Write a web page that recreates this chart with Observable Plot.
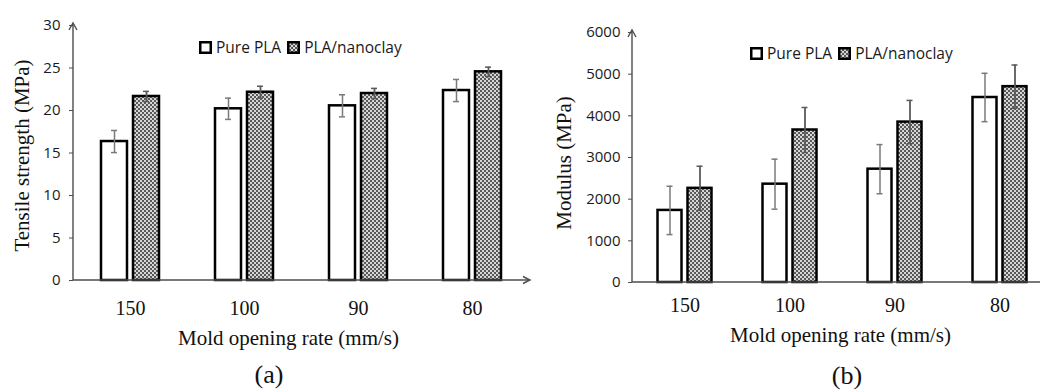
<!DOCTYPE html>
<html>
<head>
<meta charset="utf-8">
<script src="https://cdn.jsdelivr.net/npm/d3@7"></script>
<script src="https://cdn.jsdelivr.net/npm/@observablehq/plot@0.6"></script>
<style>
  html, body { margin: 0; padding: 0; background: #fff; }
  #wrap { position: relative; width: 1040px; height: 392px; overflow: hidden; background: #fff; }
  .panel { position: absolute; top: 0; width: 520px; height: 392px; }
  .legend { position: absolute; height: 20px; display: flex; align-items: center;
            font-family: "Open Sans", sans-serif; font-size: 15.5px; color: #1a1a1a; white-space: nowrap; }
  .legend svg { display: block; }
  .legend .lbl { margin-left: 4px; }
  .legend .gap { width: 6px; }
</style>
</head>
<body>
<div id="wrap">
  <div class="panel" id="pa" style="left:0"></div>
  <div class="panel" id="pb" style="left:520px"></div>
</div>
<script>
// ---------- data ----------
const rates = ["150", "100", "90", "80"];
const series = ["Pure PLA", "PLA/nanoclay"];

const tensilePure    = [16.35, 20.2, 20.55, 22.35];
const tensilePureErr = [1.3, 1.25, 1.3, 1.3];
const tensileNano    = [21.65, 22.15, 22.0, 24.55];
const tensileNanoErr = [0.6, 0.7, 0.6, 0.55];

const modulusPure    = [1730, 2360, 2720, 4440];
const modulusPureErr = [580, 600, 590, 580];
const modulusNano    = [2260, 3660, 3850, 4700];
const modulusNanoErr = [530, 540, 520, 520];

const tensileTicks = [0, 5, 10, 15, 20, 25, 30];
const modulusTicks = [0, 1000, 2000, 3000, 4000, 5000, 6000];

function rows(vals, errs, s) {
  return rates.map((r, i) => ({rate: r, series: s, value: vals[i], err: errs[i]}));
}

const SERIF = "'Liberation Serif', 'Times New Roman', serif";
const SANS = "'Open Sans', sans-serif";

function addPattern(svg, id) {
  const defs = d3.select(svg).insert("defs", ":first-child");
  const p = defs.append("pattern").attr("id", id).attr("patternUnits", "userSpaceOnUse")
    .attr("width", 4).attr("height", 4);
  p.append("rect").attr("width", 4).attr("height", 4).attr("fill", "#595959");
  p.append("rect").attr("x", 0).attr("y", 0).attr("width", 2).attr("height", 2).attr("fill", "#d6d6d6");
  p.append("rect").attr("x", 2).attr("y", 2).attr("width", 2).attr("height", 2).attr("fill", "#d6d6d6");
}

function panel(o) {
  const pure = rows(o.pure, o.pureErr, series[0]);
  const nano = rows(o.nano, o.nanoErr, series[1]);
  const half = o.step / 2;
  const bw = o.barW, g = o.gap / 2;
  const c = g + bw / 2;           // offset of bar centre from group centre
  const cap = 3;
  const axisMark = (index, scales, values, dim) => {
    const gEl = d3.create("svg:g").attr("fill", "none").attr("stroke", "#4d4d4d").attr("stroke-width", 1.4);
    const x0 = dim.marginLeft;
    const y0 = scales.y(0);
    const yTop = scales.y(o.yMax) - 2;
    gEl.append("line").attr("x1", x0).attr("x2", x0).attr("y1", y0).attr("y2", yTop);
    gEl.append("path").attr("d", `M${x0 - 4},${yTop + 7}L${x0},${yTop}L${x0 + 4},${yTop + 7}`);
    gEl.append("line").attr("x1", x0).attr("x2", o.xEnd).attr("y1", y0).attr("y2", y0);
    if (o.xArrow) {
      gEl.append("path").attr("d", `M${o.xEnd - 7},${y0 - 3.5}L${o.xEnd},${y0}L${o.xEnd - 7},${y0 + 3.5}`);
    }
    return gEl.node();
  };
  const errStroke = "#7a7a7a";
  const svg = Plot.plot({
    width: 520,
    height: 392,
    marginLeft: o.marginLeft,
    marginRight: 0,
    marginTop: o.marginTop,
    marginBottom: 392 - o.y0px,
    style: {background: "transparent", overflow: "visible", color: "#1a1a1a", fontFamily: SANS},
    x: {type: "band", domain: rates, range: [o.marginLeft, o.marginLeft + o.step * 4], padding: 0, round: false, axis: null},
    y: {domain: [0, o.yMax], axis: null},
    marks: [
      Plot.barY(pure, {x: "rate", y: "value", fill: "white", stroke: "black", strokeWidth: 2.5,
        insetLeft: half - c - bw / 2, insetRight: half + g}),
      Plot.barY(nano, {x: "rate", y: "value", fill: `url(#${o.id})`, stroke: "black", strokeWidth: 2.5,
        insetLeft: half + g, insetRight: half - c - bw / 2}),
      Plot.ruleX(pure, {x: "rate", y1: d => d.value - d.err, y2: d => d.value + d.err, dx: -c, stroke: errStroke, strokeWidth: 1.5}),
      Plot.ruleX(nano, {x: "rate", y1: d => d.value - d.err, y2: d => d.value + d.err, dx: c, stroke: "#5a5a5a", strokeWidth: 1.8}),
      Plot.tickY(pure, {x: "rate", y: d => d.value + d.err, insetLeft: half - c - cap, insetRight: half + c - cap, stroke: errStroke, strokeWidth: 1.5}),
      Plot.tickY(pure, {x: "rate", y: d => d.value - d.err, insetLeft: half - c - cap, insetRight: half + c - cap, stroke: errStroke, strokeWidth: 1.5}),
      Plot.tickY(nano, {x: "rate", y: d => d.value + d.err, insetLeft: half + c - cap, insetRight: half - c - cap, stroke: "#5a5a5a", strokeWidth: 1.5}),
      Plot.tickY(nano, {x: "rate", y: d => d.value - d.err, insetLeft: half + c - cap, insetRight: half - c - cap, stroke: "#5a5a5a", strokeWidth: 1.5}),
      Plot.axisY({ticks: o.yTicks, tickSize: 4, tickPadding: o.tickPad, stroke: "#4d4d4d", fontSize: 15, fontFamily: SANS, label: null, tickFormat: d => String(d)}),
      Plot.axisX({tickSize: 0, tickPadding: o.xTickPad, fontSize: 20, fontFamily: SERIF, label: null, fill: "#111"}),
      axisMark,
      Plot.text([o.yTitle], {text: d => d, frameAnchor: "left", textAnchor: "middle", lineAnchor: "middle", rotate: -90, dx: o.yTitleDx, dy: o.yTitleDy, fontSize: 21, fontFamily: SERIF, fill: "#111"}),
      Plot.text([o.xTitle], {text: d => d, frameAnchor: "bottom", textAnchor: "middle", lineAnchor: "middle", dx: o.xTitleDx, dy: o.xTitleDy, fontSize: 21, fontFamily: SERIF, fill: "#111"}),
      Plot.text([o.tag], {text: d => d, frameAnchor: "bottom", textAnchor: "middle", lineAnchor: "middle", dx: o.tagDx, dy: o.tagDy, fontSize: 26, fontFamily: SERIF, fill: "#111"})
    ]
  });
  addPattern(svg, o.id);
  return svg;
}

function legend(left, top, pid) {
  const div = document.createElement("div");
  div.className = "legend";
  div.style.left = left + "px";
  div.style.top = top + "px";
  const sw = (fill) => `<svg width="13" height="13"><defs><pattern id="${pid}" patternUnits="userSpaceOnUse" width="4" height="4"><rect width="4" height="4" fill="#595959"/><rect width="2" height="2" fill="#d6d6d6"/><rect x="2" y="2" width="2" height="2" fill="#d6d6d6"/></pattern></defs><rect x="1.25" y="1.25" width="10.5" height="10.5" fill="${fill}" stroke="black" stroke-width="2.5"/></svg>`;
  div.innerHTML = `${sw("white")}<span class="lbl">${series[0]}</span><span class="gap"></span>${sw("url(#" + pid + ")")}<span class="lbl">${series[1]}</span>`;
  document.getElementById("wrap").appendChild(div);
}

document.getElementById("pa").appendChild(panel({
  id: "clayA", pure: tensilePure, pureErr: tensilePureErr, nano: tensileNano, nanoErr: tensileNanoErr,
  yMax: 30, yTicks: tensileTicks, marginLeft: 73, marginTop: 25, y0px: 280, step: 114, barW: 26, gap: 6,
  tickPad: 9, xTickPad: 20, xEnd: 530, xArrow: true,
  yTitle: "Tensile strength (MPa)", yTitleDx: -51, yTitleDy: 2.5,
  xTitle: "Mold opening rate (mm/s)", xTitleDx: -8.5, xTitleDy: 57.5,
  tag: "(a)", tagDx: -28, tagDy: 94
}));
document.getElementById("pb").appendChild(panel({
  id: "clayB", pure: modulusPure, pureErr: modulusPureErr, nano: modulusNano, nanoErr: modulusNanoErr,
  yMax: 6000, yTicks: modulusTicks, marginLeft: 112, marginTop: 32, y0px: 282, step: 105, barW: 24, gap: 6,
  tickPad: 8, xTickPad: 15, xEnd: 540, xArrow: false,
  yTitle: "Modulus (MPa)", yTitleDx: -68, yTitleDy: 5.5,
  xTitle: "Mold opening rate (mm/s)", xTitleDx: 4, xTitleDy: 53,
  tag: "(b)", tagDx: 10.5, tagDy: 93
}));
legend(199, 37, "lgA");
legend(750, 43, "lgB");
</script>
</body>
</html>
